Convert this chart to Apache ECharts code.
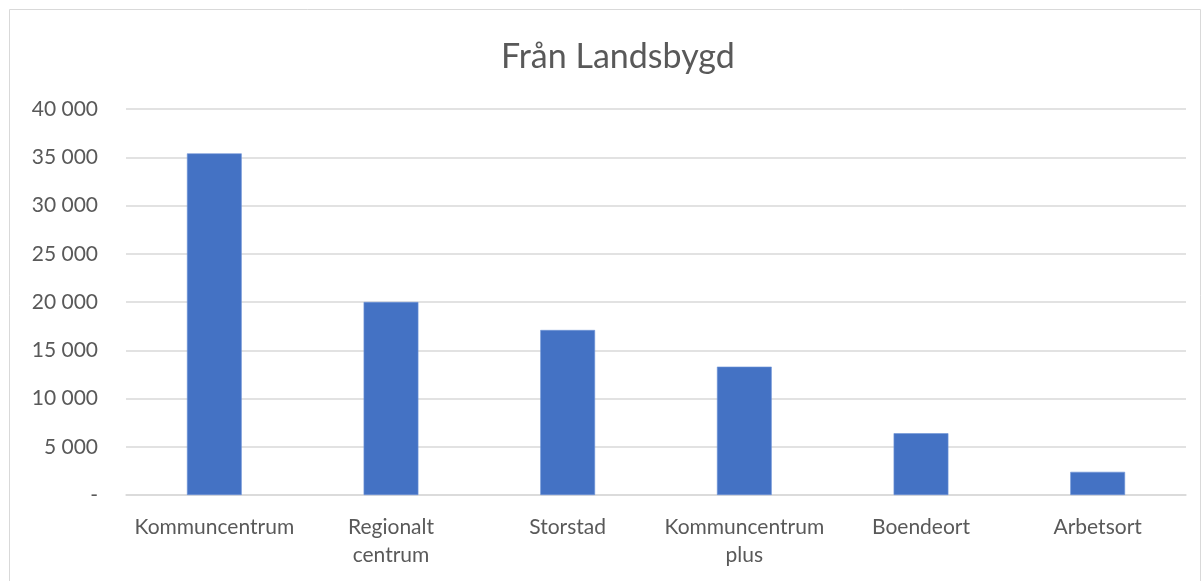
<!DOCTYPE html>
<html>
<head>
<meta charset="utf-8">
<script src="https://cdn.jsdelivr.net/npm/echarts@6/dist/echarts.min.js"></script>
<style>
  html, body { margin: 0; padding: 0; background: #fff; }
  #chart { width: 1203px; height: 581px; }
</style>
</head>
<body>
<div id="chart"></div>
<script>
// Destinations of moves from rural areas
const categories = ['Kommuncentrum', 'Regionalt centrum', 'Storstad', 'Kommuncentrum plus', 'Boendeort', 'Arbetsort'];
const values = [35400, 20000, 17100, 13300, 6400, 2400];
const titleText = 'Från Landsbygd';

const FONT = 'Lato, "Open Sans", sans-serif';
const TEXT = '#595959';
const GRID = '#d9d9d9';

function fmtThousands(v) {
  if (v === 0) return '-';
  return String(v).replace(/\B(?=(\d{3})+(?!\d))/g, ' ');
}

const chart = echarts.init(document.getElementById('chart'), null, { renderer: 'canvas' });
chart.setOption({
  animation: false,
  backgroundColor: '#ffffff',
  title: {
    text: titleText,
    left: 496,
    top: 35,
    textStyle: { fontFamily: FONT, fontSize: 34, fontWeight: 'normal', color: TEXT }
  },
  graphic: [{
    type: 'rect',
    shape: { x: 9.5, y: 9.5, width: 1191, height: 600 },
    style: { fill: 'none', stroke: GRID, lineWidth: 1 },
    silent: true
  }],
  grid: { left: 126, right: 17, top: 109, bottom: 86, containLabel: false },
  xAxis: {
    type: 'category',
    data: categories,
    axisLine: { show: true, lineStyle: { color: GRID, width: 1.5 } },
    axisTick: { show: false },
    axisLabel: {
      interval: 0,
      margin: 18,
      color: TEXT,
      fontFamily: FONT,
      fontSize: 21,
      lineHeight: 28,
      formatter: (v) => v.replace(' ', '\n')
    }
  },
  yAxis: {
    type: 'value',
    min: 0,
    max: 40000,
    interval: 5000,
    axisLine: { show: false },
    axisTick: { show: false },
    splitLine: { lineStyle: { color: GRID, width: 1.5 } },
    axisLabel: {
      margin: 28,
      color: TEXT,
      fontFamily: FONT,
      fontSize: 21,
      formatter: fmtThousands
    }
  },
  series: [{
    type: 'bar',
    data: values,
    barWidth: '31%',
    itemStyle: { color: '#4472c4', borderColor: '#6f94d6', borderWidth: 0.6 }
  }]
});
</script>
</body>
</html>
